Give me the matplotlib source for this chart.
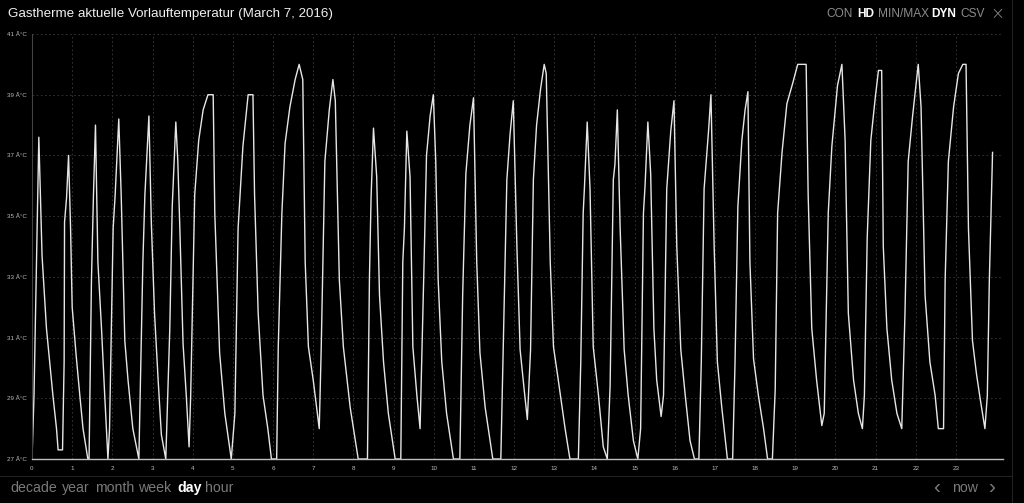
import matplotlib
matplotlib.use('Agg')
import matplotlib.pyplot as plt

plt.rcParams['font.family'] = ['Liberation Sans', 'DejaVu Sans']

# ---------------------------------------------------------------------------
# Data: flow temperature over the day (hour of day, degrees C)
# ---------------------------------------------------------------------------

hours = [
    0.00, 0.05, 0.17, 0.23, 0.25, 0.36, 0.44, 0.52, 0.61, 0.65, 0.76, 0.80, 0.81, 0.86, 0.91,
    0.96, 1.00, 1.10, 1.19, 1.27, 1.39, 1.42, 1.48, 1.53, 1.58,
    1.64, 1.73, 1.81, 1.89, 1.93, 2.02, 2.07, 2.16,
    2.22, 2.31, 2.39, 2.51, 2.66, 2.76, 2.81, 2.91,
    2.97, 3.05, 3.14, 3.22, 3.33, 3.43, 3.49, 3.58,
    3.63, 3.68, 3.76, 3.84, 3.91, 3.95, 4.05, 4.15, 4.26, 4.38, 4.51,
    4.55, 4.67, 4.80, 4.96, 5.05, 5.13, 5.25, 5.38, 5.50,
    5.54, 5.63, 5.75, 5.87, 5.96, 6.09, 6.13, 6.22, 6.30, 6.42, 6.55, 6.65,
    6.74, 6.80, 6.88, 7.00, 7.15, 7.20, 7.29, 7.40, 7.49,
    7.55, 7.65, 7.75, 7.92, 8.12, 8.35, 8.40, 8.44, 8.50,
    8.58, 8.65, 8.75, 8.87, 9.04, 9.18, 9.23, 9.27, 9.33,
    9.41, 9.48, 9.58, 9.66, 9.70, 9.76, 9.82, 9.91, 9.99,
    10.05, 10.11, 10.20, 10.32, 10.49, 10.65, 10.72, 10.80, 10.90, 10.99,
    11.07, 11.15, 11.28, 11.47, 11.67, 11.73, 11.82, 11.90, 11.98,
    12.07, 12.15, 12.25, 12.33, 12.41, 12.48, 12.56, 12.66, 12.75, 12.80,
    12.90, 12.98, 13.10, 13.27, 13.39, 13.60, 13.66, 13.72, 13.75, 13.82,
    13.89, 13.97, 14.10, 14.22, 14.32, 14.39, 14.47, 14.51, 14.57,
    14.64, 14.74, 14.84, 14.97, 15.08, 15.15, 15.22, 15.26, 15.33,
    15.40, 15.48, 15.55, 15.66, 15.72, 15.80, 15.90, 15.98,
    16.05, 16.15, 16.26, 16.38, 16.49, 16.60, 16.66, 16.73, 16.84, 16.90,
    16.98, 17.06, 17.17, 17.31, 17.44, 17.50, 17.57, 17.67, 17.75, 17.82,
    17.87, 17.96, 18.08, 18.21, 18.31, 18.43, 18.50, 18.56, 18.67, 18.79, 18.94, 19.06, 19.27,
    19.32, 19.41, 19.53, 19.66, 19.72, 19.82, 19.91, 20.05, 20.16,
    20.24, 20.32, 20.45, 20.57, 20.67, 20.72, 20.79, 20.88, 20.99, 21.07, 21.15,
    21.19, 21.28, 21.40, 21.53, 21.65, 21.73, 21.81, 21.92, 22.06,
    22.13, 22.23, 22.35, 22.48, 22.56, 22.69, 22.73, 22.81, 22.94, 23.06, 23.17, 23.25,
    23.31, 23.41, 23.51, 23.60, 23.72, 23.78, 23.83, 23.91,
]
temps = [
    27.0, 29.1, 37.6, 34.6, 33.7, 31.3, 30.2, 29.1, 28.0, 27.3, 27.3, 30.2, 34.8, 35.6, 37.0,
    34.6, 32.0, 30.4, 29.1, 28.0, 27.0, 27.0, 32.9, 35.7, 38.0,
    33.5, 31.3, 29.1, 27.0, 28.0, 34.6, 35.7, 38.2,
    35.7, 30.9, 29.6, 28.0, 27.0, 33.5, 35.7, 38.3,
    34.8, 31.8, 29.6, 27.8, 27.0, 31.3, 35.3, 38.1,
    36.8, 34.6, 30.8, 29.1, 27.4, 29.1, 35.7, 37.5, 38.5, 39.0, 39.0,
    35.1, 30.5, 28.5, 27.0, 28.5, 34.6, 37.3, 39.0, 39.0,
    35.7, 31.8, 29.1, 28.0, 27.0, 27.0, 30.7, 35.1, 37.4, 38.6, 39.5, 40.0,
    39.5, 33.5, 30.7, 29.6, 28.0, 30.7, 36.8, 38.5, 39.5,
    38.8, 32.9, 30.7, 28.7, 27.0, 27.0, 33.0, 35.6, 37.9,
    36.3, 32.4, 30.2, 28.5, 27.0, 27.0, 33.5, 34.6, 37.8,
    36.3, 30.7, 29.1, 28.0, 30.2, 33.5, 37.0, 38.3, 39.0,
    36.8, 32.9, 30.2, 28.5, 27.0, 27.0, 32.4, 36.4, 38.0, 38.9,
    33.5, 30.5, 28.7, 27.0, 27.0, 30.7, 36.2, 37.7, 38.8,
    34.0, 30.6, 29.3, 28.3, 30.6, 36.2, 38.0, 39.2, 40.0, 39.7,
    33.5, 30.7, 29.6, 28.0, 27.0, 27.0, 30.2, 35.1, 35.9, 38.1,
    35.9, 30.7, 29.1, 27.4, 27.0, 29.4, 36.2, 36.7, 38.5,
    34.6, 30.6, 29.1, 27.6, 27.0, 28.0, 35.1, 36.0, 38.1,
    36.4, 31.3, 29.6, 28.4, 29.1, 35.9, 37.8, 38.8,
    34.0, 30.6, 29.1, 27.6, 27.0, 27.0, 30.2, 35.9, 37.8, 39.0,
    34.0, 30.2, 28.7, 27.0, 27.0, 30.2, 35.3, 37.5, 38.5, 39.1,
    33.5, 30.3, 29.1, 28.0, 27.0, 27.0, 29.3, 35.1, 37.1, 38.7, 39.4, 40.0, 40.0,
    35.7, 31.3, 29.6, 28.1, 28.5, 35.1, 37.3, 39.3, 40.0,
    37.5, 31.8, 29.6, 28.5, 28.0, 29.1, 34.3, 37.5, 38.9, 39.8, 39.8,
    34.0, 31.3, 29.6, 28.5, 28.0, 31.8, 36.8, 38.3, 40.0,
    38.6, 32.4, 30.2, 29.1, 28.0, 28.0, 32.9, 36.8, 38.6, 39.7, 40.0, 40.0,
    34.6, 30.9, 29.8, 29.0, 28.0, 29.1, 32.9, 37.1,
]

ytick_vals = [27, 29, 31, 33, 35, 37, 39, 41]
ytick_labels = [f'{v} Â°C' for v in ytick_vals]
xtick_vals = list(range(24))

header_items = [('CON', False), ('HD', True), ('MIN/MAX', False), ('DYN', True), ('CSV', False)]
header_x = [826, 857, 878, 931, 960]
range_items = [('decade', False), ('year', False), ('month', False), ('week', False), ('day', True), ('hour', False)]
range_x = [10, 62, 95, 138, 177, 205]

# ---------------------------------------------------------------------------
# Figure
# ---------------------------------------------------------------------------

W, H = 1024, 503
fig = plt.figure(figsize=(W / 100, H / 100), dpi=100, facecolor='black')
ax = fig.add_axes([32 / W, 1 - 459 / H, (1003 - 32) / W, (459 - 34) / H], facecolor='black')

ax.plot(hours, temps, color='#e6e6e6', linewidth=1.0)
ax.set_xlim(0, 24.17)
ax.set_ylim(27, 41)

ax.set_yticks(ytick_vals)
ax.set_yticklabels(ytick_labels)
ax.set_xticks(xtick_vals)
ax.set_xticklabels([str(h) for h in xtick_vals])
ax.tick_params(axis='both', length=0, labelsize=4.5, colors='#bdbdbd')
ax.tick_params(axis='y', pad=4)
ax.tick_params(axis='x', pad=5)
ax.grid(True, color='#3a3a3a', linestyle=(0, (2, 3)), linewidth=0.6)

for side in ('top', 'right'):
    ax.spines[side].set_visible(False)
ax.spines['left'].set_color('#444444')
ax.spines['left'].set_linewidth(0.8)
ax.spines['bottom'].set_color('#bdbdbd')
ax.spines['bottom'].set_linewidth(1.0)

# header
fig.text(8 / W, 1 - 14 / H, 'Gastherme aktuelle Vorlauftemperatur (March 7, 2016)',
         color='#f0f0f0', fontsize=9.6, ha='left', va='center')
for (label, active), x in zip(header_items, header_x):
    fig.text(x / W, 1 - 14 / H, label, color='#ffffff' if active else '#8c8c8c',
             fontsize=8.6, fontweight='bold' if active else 'normal', ha='left', va='center')
fig.text(990 / W, 1 - 14 / H, '×', color='#8c8c8c', fontsize=12, ha='left', va='center',
         family='DejaVu Sans', fontweight='light')

# bottom navigation
for (label, active), x in zip(range_items, range_x):
    fig.text(x / W, 1 - 488 / H, label, color='#ffffff' if active else '#7a7a7a',
             fontsize=10.2, fontweight='bold' if active else 'normal', ha='left', va='center')
fig.text(933 / W, 1 - 487 / H, '‹', color='#7a7a7a', fontsize=15, ha='left', va='center')
fig.text(952 / W, 1 - 488 / H, 'now', color='#7a7a7a', fontsize=10.2, ha='left', va='center')
fig.text(988 / W, 1 - 487 / H, '›', color='#7a7a7a', fontsize=15, ha='left', va='center')

# panel separators
fig.add_artist(plt.Line2D([0, 1012 / W], [1 - 476 / H, 1 - 476 / H], color='#222222', linewidth=0.8))
fig.add_artist(plt.Line2D([1012 / W, 1012 / W], [0, 1], color='#222222', linewidth=0.8))

fig.savefig('out.png', dpi=100, facecolor='black')
